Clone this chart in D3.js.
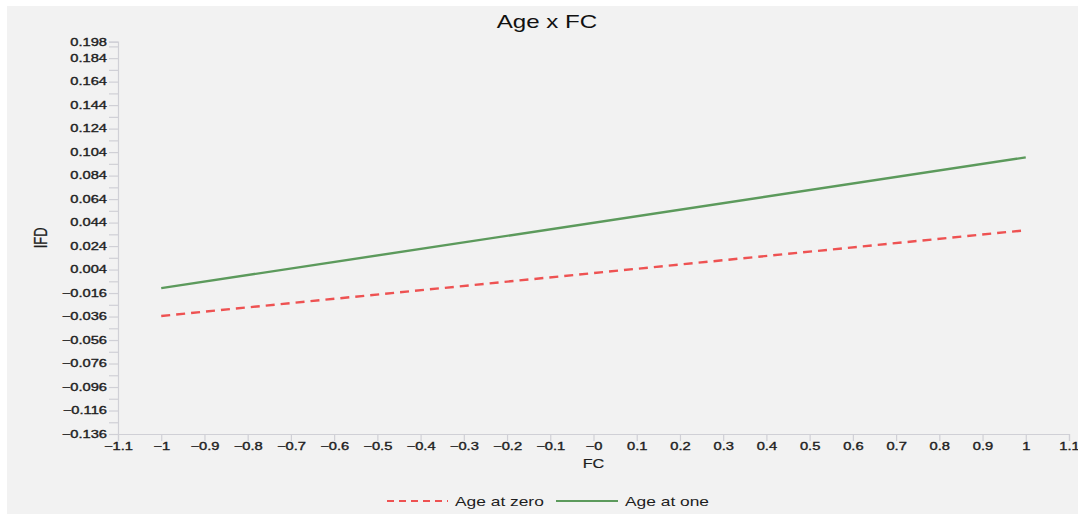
<!DOCTYPE html>
<html>
<head>
<meta charset="utf-8">
<script src="https://cdn.jsdelivr.net/npm/d3@7"></script>
<style>
  html, body { margin: 0; padding: 0; background: #ffffff; }
  svg { display: block; }
  text { font-family: "Liberation Sans", Arial, Helvetica, sans-serif; }
</style>
</head>
<body>
<svg id="chart" width="1078" height="514"></svg>
<script>
// ---- Data ----
const fcValues = [-1, 1];
const ageZero = [-0.0355, 0.0375];
const ageOne = [-0.0118, 0.0995];
const seriesNames = ["Age at zero", "Age at one"];
const xTicks = [-1.1, -1, -0.9, -0.8, -0.7, -0.6, -0.5, -0.4, -0.3, -0.2, -0.1, 0, 0.1, 0.2, 0.3, 0.4, 0.5, 0.6, 0.7, 0.8, 0.9, 1, 1.1];
const xTickLabels = ["-1.1", "-1", "-0.9", "-0.8", "-0.7", "-0.6", "-0.5", "-0.4", "-0.3", "-0.2", "-0.1", "-0", "0.1", "0.2", "0.3", "0.4", "0.5", "0.6", "0.7", "0.8", "0.9", "1", "1.1"];
const yTicks = [-0.136, -0.116, -0.096, -0.076, -0.056, -0.036, -0.016, 0.004, 0.024, 0.044, 0.064, 0.084, 0.104, 0.124, 0.144, 0.164, 0.184, 0.198];
const yMinorTicks = [-0.126, -0.106, -0.086, -0.066, -0.046, -0.026, -0.006, 0.014, 0.034, 0.054, 0.074, 0.094, 0.114, 0.134, 0.154, 0.174, 0.194];

const W = 1078, H = 514;
const SX = 1.4; // horizontal text stretch seen in the reference
const svg = d3.select("#chart");

// panel background
svg.append("rect").attr("x", 7).attr("y", 6).attr("width", W - 7).attr("height", H - 6).attr("fill", "#f2f2f2");

const mLeft = 118, mRight = 1069, mTop = 41.7, mBottom = 434;
const x = d3.scaleLinear().domain([-1.1, 1.1]).range([mLeft, mRight]);
const y = d3.scaleLinear().domain([-0.136, 0.198]).range([mBottom, mTop]);

const tickColor = "#d0d0d6";
const labelColor = "#1e1e1e";

function thicken(sel, w) {
  sel.attr("stroke", labelColor).attr("stroke-width", w).attr("paint-order", "stroke");
}

// x axis
const xAxis = d3.axisBottom(x).tickValues(xTicks).tickSize(7)
  .tickFormat((d, i) => xTickLabels[i].replace("-", "\u2212"));
const gx = svg.append("g").attr("transform", `translate(0,${mBottom})`).call(xAxis);
gx.select(".domain").attr("stroke", tickColor).attr("stroke-width", 1.2);
gx.selectAll(".tick line").attr("stroke", tickColor).attr("stroke-width", 1.2);
gx.selectAll(".tick text").attr("fill", labelColor).attr("font-size", 10.5)
  .attr("y", 9).attr("transform", `scale(${SX},1)`).call(thicken, 0.35);

// y axis
const yAxis = d3.axisLeft(y).tickValues(yTicks).tickSize(9)
  .tickFormat(d => d3.format(".3f")(d).replace("-", "\u2212"));
const gy = svg.append("g").attr("transform", `translate(${mLeft},0)`).call(yAxis);
gy.select(".domain").attr("stroke", tickColor).attr("stroke-width", 1.2);
gy.selectAll(".tick line").attr("stroke", tickColor).attr("stroke-width", 1.2);
gy.selectAll(".tick text").attr("fill", labelColor).attr("font-size", 10.5)
  .attr("x", -11 / SX).attr("transform", `scale(${SX},1)`).call(thicken, 0.35);

// y minor ticks
const yMinor = d3.axisLeft(y).tickValues(yMinorTicks).tickSize(9).tickFormat("");
const gym = svg.append("g").attr("transform", `translate(${mLeft},0)`).call(yMinor);
gym.select(".domain").remove();
gym.selectAll(".tick line").attr("stroke", tickColor).attr("stroke-width", 1.2);

// titles
svg.append("text").attr("transform", `translate(547,28) scale(1.34,1)`).attr("text-anchor", "middle")
  .attr("font-size", 18).attr("fill", "#111").text("Age x FC");
svg.append("text").attr("transform", `translate(${(mLeft + mRight) / 2},468) scale(1.3,1)`).attr("text-anchor", "middle")
  .attr("font-size", 12.5).attr("fill", labelColor).text("FC").call(thicken, 0.2);
svg.append("text").attr("transform", `translate(47,${(mTop + mBottom) / 2}) rotate(-90) scale(1,1.35)`).attr("text-anchor", "middle")
  .attr("font-size", 13).attr("fill", labelColor).text("IFD").call(thicken, 0.2);

// lines
const line = d3.line().x(d => x(d[0])).y(d => y(d[1]));
const redColor = "#ee5252", greenColor = "#5c9a5c";
svg.append("path").datum(fcValues.map((v, i) => [v, ageZero[i]]))
  .attr("d", line).attr("fill", "none").attr("stroke", redColor).attr("stroke-width", 2.4)
  .attr("stroke-dasharray", "9,6");
svg.append("path").datum(fcValues.map((v, i) => [v, ageOne[i]]))
  .attr("d", line).attr("fill", "none").attr("stroke", greenColor).attr("stroke-width", 2.4);

// legend
const ly = 501;
svg.append("line").attr("x1", 387).attr("x2", 448).attr("y1", ly).attr("y2", ly)
  .attr("stroke", redColor).attr("stroke-width", 2.2).attr("stroke-dasharray", "7,5");
svg.append("text").attr("transform", `translate(455,${ly + 4.5}) scale(1.39,1)`).attr("font-size", 12.5).attr("fill", labelColor).text(seriesNames[0]);
svg.append("line").attr("x1", 556).attr("x2", 618).attr("y1", ly).attr("y2", ly)
  .attr("stroke", greenColor).attr("stroke-width", 2.2);
svg.append("text").attr("transform", `translate(625,${ly + 4.5}) scale(1.39,1)`).attr("font-size", 12.5).attr("fill", labelColor).text(seriesNames[1]);
</script>
</body>
</html>
